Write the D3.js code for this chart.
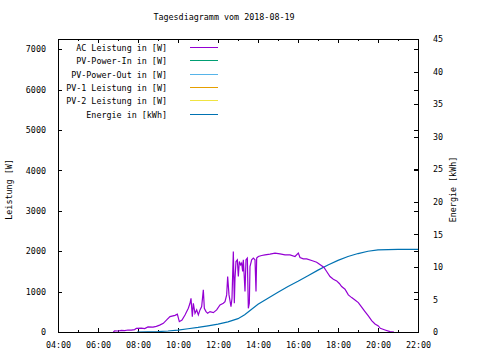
<!DOCTYPE html>
<html>
<head>
<meta charset="utf-8">
<script src="https://cdn.jsdelivr.net/npm/d3@7"></script>
<style>
  body { margin: 0; background: #fff; }
  text { font-family: "DejaVu Sans Mono", "Liberation Mono", monospace; font-size: 8.4px; fill: #000; }
</style>
</head>
<body>
<div id="chart"></div>
<script>
const chartTitle = "Tagesdiagramm vom 2018-08-19";

const xTickLabels = ["04:00", "06:00", "08:00", "10:00", "12:00", "14:00", "16:00", "18:00", "20:00", "22:00"];
const yTicks = [0, 1000, 2000, 3000, 4000, 5000, 6000, 7000];
const y2Ticks = [0, 5, 10, 15, 20, 25, 30, 35, 40, 45];

const legendLabels = [
  "AC Leistung in [W]",
  "PV-Power-In in [W]",
  "PV-Power-Out in [W]",
  "PV-1 Leistung in [W]",
  "PV-2 Leistung in [W]",
  "Energie in [kWh]"
];
const legendColors = ["#9400d3", "#009e73", "#56b4e9", "#e69f00", "#f0e442", "#0072b2"];

// AC Leistung (W)
const acTime = [
  "06:46", "06:50", "07:00", "07:10", "07:20", "07:30", "07:40", "07:50", "07:55", "08:10",
  "08:20", "08:30", "08:45", "08:55", "09:05", "09:16", "09:26", "09:36", "09:45", "09:51",
  "09:58", "10:04", "10:12", "10:21", "10:31", "10:36", "10:39", "10:43", "10:46", "10:51",
  "10:56", "11:01", "11:06", "11:11", "11:16", "11:19", "11:24", "11:29", "11:36", "11:46",
  "11:56", "12:06", "12:16", "12:21", "12:26", "12:29", "12:33", "12:39", "12:42", "12:46",
  "12:49", "12:51", "12:54", "12:58", "13:01", "13:04", "13:08", "13:11", "13:14", "13:16",
  "13:19", "13:21", "13:24", "13:28", "13:31", "13:34", "13:36", "13:41", "13:46", "13:51",
  "13:54", "13:56", "14:01", "14:11", "14:21", "14:36", "14:51", "15:06", "15:21", "15:36",
  "15:51", "16:01", "16:06", "16:16", "16:26", "16:41", "16:56", "17:11", "17:18", "17:26",
  "17:36", "17:46", "17:56", "18:04", "18:11", "18:21", "18:31", "18:41", "18:51", "19:01",
  "19:11", "19:21", "19:31", "19:41", "19:51", "20:01", "20:07", "20:21", "20:36", "20:48"
];
const acPower = [
  0, 30, 25, 40, 35, 50, 45, 60, 90, 95,
  85, 125, 120, 140, 170, 215, 300, 380, 400, 413,
  440, 256, 298, 422, 587, 711, 835, 380, 711, 463,
  546, 422, 546, 628, 1042, 587, 504, 463, 504, 480,
  546, 670, 711, 752, 918, 1372, 918, 628, 835, 1992,
  711, 1332, 1744, 1786, 1372, 1744, 1662, 1704, 1496, 1786,
  1332, 1000, 1786, 1828, 587, 711, 1620, 1786, 1828, 1786,
  1000, 1828, 1868, 1893, 1910, 1927, 1952, 1935, 1910, 1910,
  1868, 1952, 1844, 1811, 1811, 1769, 1728, 1637, 1595, 1496,
  1372, 1307, 1265, 1200, 1124, 1059, 918, 851, 794, 727,
  613, 504, 397, 280, 198, 149, 92, 50, 8, 0
];

// Energie (kWh)
const energyTime = [
  "07:57", "09:00", "09:30", "10:00", "10:30", "11:00", "11:30", "12:00", "12:30", "13:00",
  "13:20", "13:40", "14:00", "14:30", "15:00", "15:30", "16:00", "16:30", "17:00", "17:30",
  "18:00", "18:30", "19:00", "19:30", "20:00", "20:30", "21:00", "22:00"
];
const energyValue = [
  0, 0.05, 0.15, 0.3, 0.5, 0.7, 0.95, 1.2, 1.55, 2.05,
  2.65, 3.45, 4.25, 5.2, 6.1, 7.0, 7.8, 8.65, 9.5, 10.3,
  11.0, 11.6, 12.05, 12.4, 12.6, 12.66, 12.68, 12.68
];

const W = 480, H = 360;
const margin = { top: 39, right: 62, bottom: 28, left: 58 };

const parseHM = s => { const [h, m] = s.split(":").map(Number); return h + m / 60; };

const svg = d3.select("#chart").append("svg")
  .attr("width", W)
  .attr("height", H);

const x = d3.scaleLinear()
  .domain([4, 22])
  .range([margin.left, W - margin.right]);

// 7000 sits ~10px below the top border
const y = d3.scaleLinear()
  .domain([0, 7250])
  .range([H - margin.bottom, margin.top]);

const y2 = d3.scaleLinear()
  .domain([0, 45])
  .range([H - margin.bottom, margin.top]);

// title
svg.append("text")
  .attr("x", 224)
  .attr("y", 20)
  .attr("text-anchor", "middle")
  .text(chartTitle);

const xMajor = xTickLabels.map(parseHM);
const xMinor = d3.range(5, 22, 2);

function cleanAxis(g) {
  g.select(".domain").remove();
  g.selectAll("text").attr("font-size", null).attr("font-family", null);
  g.selectAll("line").attr("stroke", "#000").attr("shape-rendering", "crispEdges");
}

// bottom x axis, ticks inward
svg.append("g")
  .attr("transform", `translate(0,${H - margin.bottom})`)
  .call(d3.axisBottom(x)
    .tickValues(xMajor)
    .tickFormat((d, i) => xTickLabels[i])
    .tickSizeInner(-4)
    .tickSizeOuter(0)
    .tickPadding(10))
  .call(cleanAxis);

svg.append("g")
  .attr("transform", `translate(0,${H - margin.bottom})`)
  .call(d3.axisBottom(x).tickValues(xMinor).tickSizeInner(-2).tickSizeOuter(0).tickFormat(""))
  .call(cleanAxis);

// top mirror ticks
svg.append("g")
  .attr("transform", `translate(0,${margin.top})`)
  .call(d3.axisTop(x).tickValues(xMajor).tickSizeInner(-4).tickSizeOuter(0).tickFormat(""))
  .call(cleanAxis);
svg.append("g")
  .attr("transform", `translate(0,${margin.top})`)
  .call(d3.axisTop(x).tickValues(xMinor).tickSizeInner(-2).tickSizeOuter(0).tickFormat(""))
  .call(cleanAxis);

// left y axis
svg.append("g")
  .attr("transform", `translate(${margin.left},0)`)
  .call(d3.axisLeft(y).tickValues(yTicks).tickFormat(d3.format("d"))
    .tickSizeInner(-4).tickSizeOuter(0).tickPadding(12))
  .call(cleanAxis);

// right: mirrored y ticks
svg.append("g")
  .attr("transform", `translate(${W - margin.right},0)`)
  .call(d3.axisRight(y).tickValues(yTicks.slice(1)).tickSizeInner(-4).tickSizeOuter(0).tickFormat(""))
  .call(cleanAxis);

// right y2 axis
svg.append("g")
  .attr("transform", `translate(${W - margin.right},0)`)
  .call(d3.axisRight(y2).tickValues(y2Ticks).tickFormat(d3.format("d"))
    .tickSizeInner(-4).tickSizeOuter(0).tickPadding(15))
  .call(cleanAxis);

// axis titles
const midY = (margin.top + H - margin.bottom) / 2 + 4;
svg.append("text")
  .attr("transform", `translate(12,${midY}) rotate(-90)`)
  .attr("text-anchor", "middle")
  .text("Leistung [W]");

svg.append("text")
  .attr("transform", `translate(456,${midY}) rotate(-90)`)
  .attr("text-anchor", "middle")
  .text("Energie [kWh]");

// series
const acData = acTime.map((t, i) => ({ t: parseHM(t), v: acPower[i] }));
const energyData = energyTime.map((t, i) => ({ t: parseHM(t), v: energyValue[i] }));

svg.append("path")
  .datum(energyData)
  .attr("fill", "none")
  .attr("stroke", legendColors[5])
  .attr("stroke-width", 1.2)
  .attr("d", d3.line().x(d => x(d.t)).y(d => y2(d.v)));

svg.append("path")
  .datum(acData)
  .attr("fill", "none")
  .attr("stroke", legendColors[0])
  .attr("stroke-width", 1.2)
  .attr("d", d3.line().x(d => x(d.t)).y(d => y(d.v)));

// border
svg.append("rect")
  .attr("x", margin.left + 0.5)
  .attr("y", margin.top + 0.5)
  .attr("width", W - margin.left - margin.right)
  .attr("height", H - margin.top - margin.bottom)
  .attr("fill", "none")
  .attr("stroke", "#000")
  .attr("shape-rendering", "crispEdges");

// legend
const legend = svg.append("g");
legendLabels.forEach((label, i) => {
  const ly = Math.round(47 + i * 13.3) + 0.5;
  legend.append("text")
    .attr("x", 167)
    .attr("y", ly + 3)
    .attr("text-anchor", "end")
    .text(label);
  legend.append("line")
    .attr("x1", 190)
    .attr("x2", 218)
    .attr("y1", ly)
    .attr("y2", ly)
    .attr("stroke", legendColors[i])
    .attr("stroke-width", 1)
    .attr("shape-rendering", "crispEdges");
});
</script>
</body>
</html>
